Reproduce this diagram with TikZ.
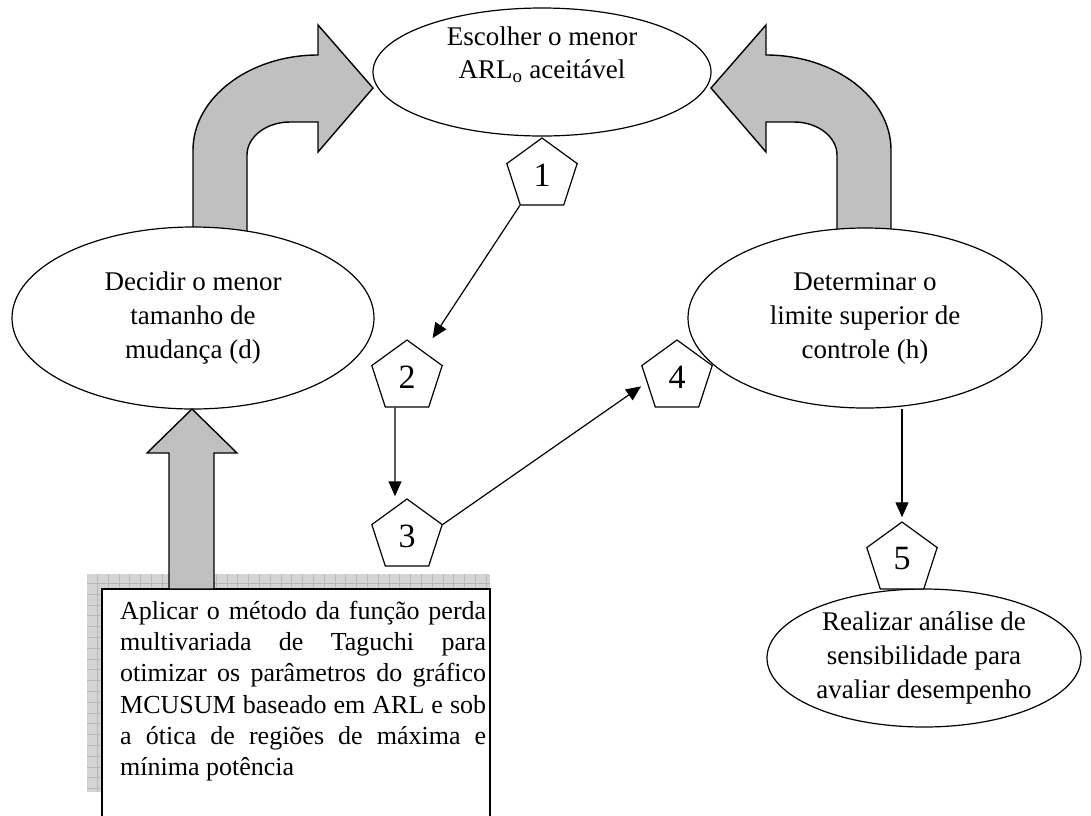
\documentclass[tikz,border=0pt]{standalone}
\usepackage{fontspec}
\setmainfont{Liberation Serif}
\usetikzlibrary{shapes.geometric,arrows.meta,calc}
\definecolor{blockgray}{HTML}{C0C0C0}
\definecolor{gridfill}{HTML}{D4D4D4}
\definecolor{gridline}{HTML}{B8B8B8}
\begin{document}
\begin{tikzpicture}[x=1pt,y=-1pt,
  blk/.style={draw=black, line width=1.4pt, fill=blockgray, line join=miter},
  oval/.style={draw=black, line width=1.2pt, fill=white, ellipse, inner sep=0pt, align=center, font=\fontsize{27}{34}\selectfont},
  ovaltext/.style={inner sep=0pt, align=center, font=\fontsize{27}{33}\selectfont},
  penta/.style={draw=black, line width=1.2pt, fill=white, regular polygon, regular polygon sides=5, minimum size=74pt, inner sep=0pt, font=\fontsize{34}{36}\selectfont},
  arr/.style={line width=1.2pt, -{Triangle[length=15pt,width=13pt]}},
  boxline/.style={draw=black, line width=1.2pt, fill=white},
]
\clip (0,0) rectangle (1091,815);
\fill[white] (0,0) rectangle (1091,815);

% patterned backdrop of the text box
\fill[gridfill] (87,574) rectangle (490,792);
\draw[gridline, line width=0.6pt, step=10.8pt] (87,574) grid (490,792);

% text box
\path[boxline] (102,830) -- (102,589) -- (490,589) -- (490,830);
\node[anchor=north west, text width=366pt, align=justify, inner sep=0pt,
      font=\fontsize{26}{31.2}\selectfont] (boxtxt) at (120,601)
  {Aplicar o método da função perda\linebreak
   multivariada de Taguchi para\linebreak
   otimizar os parâmetros do gráfico\linebreak
   MCUSUM baseado em ARL e sob\linebreak
   a ótica de regiões de máxima e\linebreak
   mínima potência};

% top ellipse
\node[oval, minimum width=338pt, minimum height=128pt] (e1) at (542,72) {};
\node[ovaltext] (t1) at (542,55) {Escolher o menor\\ARL\textsubscript{o} aceitável};

% curved block arrows
\draw[blk] (193,240) -- (193,150) .. controls (193,98) and (249,55) .. (318,55)
  -- (318,25) -- (373,88) -- (318,152) -- (318,122) -- (290,122)
  .. controls (266,122) and (247,137) .. (247,155) -- (247,240) -- cycle;
\draw[blk] (891,240) -- (891,150) .. controls (891,98) and (835,55) .. (766,55)
  -- (766,25) -- (711,88) -- (766,152) -- (766,122) -- (794,122)
  .. controls (818,122) and (837,137) .. (837,155) -- (837,240) -- cycle;

% side ellipses
\node[oval, minimum width=362pt, minimum height=182pt] (e2) at (193,318) {Decidir o menor\\tamanho de\\mudança (d)};
\node[oval, minimum width=354pt, minimum height=180pt] (e3) at (865,318) {Determinar o\\limite superior de\\controle (h)};

% upward block arrow
\draw[blk] (169,589) -- (169,453) -- (147,453) -- (192,409) -- (237,453) -- (214,453) -- (214,589) -- cycle;

% bottom right ellipse
\node[oval, minimum width=314pt, minimum height=138pt] (e4) at (924,658) {Realizar análise de\\sensibilidade para\\avaliar desempenho};

% pentagons
\node[penta] (p1) at (542,175) {\raisebox{-3pt}{1}};
\node[penta] (p2) at (407,377) {\raisebox{-3pt}{2}};
\node[penta] (p3) at (407,536) {\raisebox{-3pt}{3}};
\node[penta] (p4) at (677,377) {\raisebox{-3pt}{4}};
\node[penta] (p5) at (902,559) {\raisebox{-3pt}{5}};

% connectors
\draw[arr, shorten >=16pt] (p1.corner 3) -- (p2);
\draw[arr] ([xshift=-12pt]p2.south) -- ([xshift=-12pt,yshift=2pt]p3.north);
\draw[arr] (p3.corner 5) -- ([yshift=-21pt]p4.corner 2);
\draw[arr] (p5.north |- e3.south) -- ([yshift=4pt]p5.north);
\end{tikzpicture}
\end{document}
